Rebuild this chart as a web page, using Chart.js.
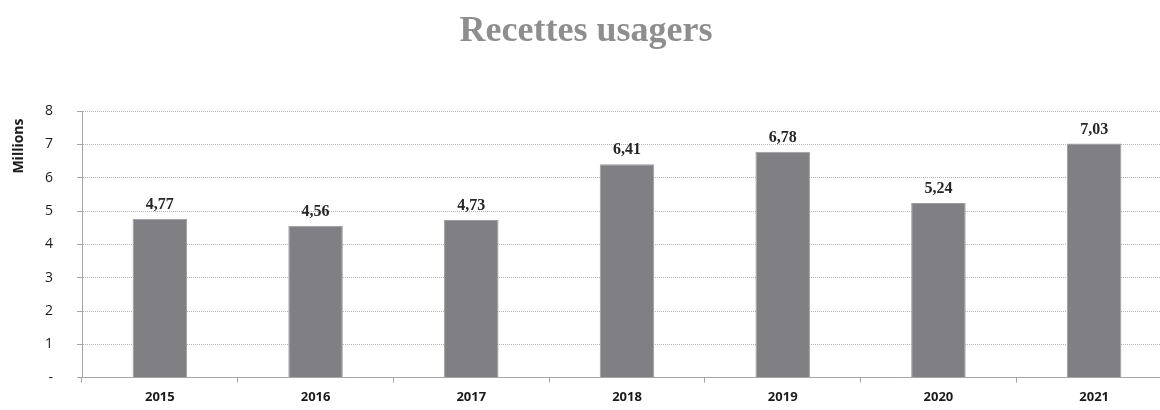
<!DOCTYPE html>
<html><head><meta charset="utf-8">
<script src="https://cdn.jsdelivr.net/npm/chart.js@4/dist/chart.umd.min.js"></script>
<style>
html,body{margin:0;padding:0;background:#fff;overflow:hidden;width:1160px;height:410px}
canvas{display:block}
</style></head>
<body>
<canvas id="c" width="1172" height="410"></canvas>
<script>
const categories = ['2015','2016','2017','2018','2019','2020','2021'];
const values = [4.77, 4.56, 4.73, 6.41, 6.78, 5.24, 7.03];
const valueLabels = ['4,77','4,56','4,73','6,41','6,78','5,24','7,03'];
const yTickLabels = {0:'-',1:'1',2:'2',3:'3',4:'4',5:'5',6:'6',7:'7',8:'8'};

const labelPlugin = {
  id: 'valLabels',
  afterDatasetsDraw(chart) {
    const ctx = chart.ctx;
    const meta = chart.getDatasetMeta(0);
    ctx.save();
    ctx.font = 'bold 16px "Liberation Serif"';
    ctx.fillStyle = '#262626';
    ctx.textAlign = 'center';
    ctx.textBaseline = 'alphabetic';
    meta.data.forEach((bar, i) => {
      ctx.fillText(valueLabels[i], bar.x, bar.y - 10);
    });
    ctx.restore();
  }
};

new Chart(document.getElementById('c'), {
  type: 'bar',
  data: {
    labels: categories,
    datasets: [{
      data: values,
      backgroundColor: '#808084',
      borderColor: '#9c9ca0',
      borderWidth: 1,
      barPercentage: 0.35,
      categoryPercentage: 1.0
    }]
  },
  options: {
    responsive: false,
    animation: false,
    layout: { padding: { left: 0, right: 0, top: 0, bottom: 0 } },
    plugins: {
      legend: { display: false },
      tooltip: { enabled: false },
      title: {
        display: true,
        text: 'Recettes usagers',
        color: '#8e8e8e',
        font: { family: '"Liberation Serif"', size: 36, weight: 'bold', lineHeight: 1.2 },
        padding: { top: 10, bottom: 58 }
      }
    },
    scales: {
      x: {
        afterFit(scale) { scale.height = 29; },
        grid: { display: true, drawOnChartArea: false, drawTicks: true, tickLength: 5, color: '#a6a6a6', offset: true },
        border: { color: '#a6a6a6', width: 1 },
        ticks: { color: '#1a1a1a', font: { family: '"Open Sans"', size: 13, weight: 'bold', lineHeight: 1.54 }, padding: 5 }
      },
      y: {
        min: 0, max: 8,
        afterFit(scale) { scale.width = 82; },
        grid: { color: '#b4b4b4', tickLength: 5, tickColor: '#a6a6a6', tickBorderDash: [], drawTicks: true },
        border: { color: '#a6a6a6', width: 1, dash: [1, 1] },
        ticks: {
          stepSize: 1, padding: 24, color: '#1a1a1a',
          font: { family: '"Open Sans"', size: 14 },
          callback: (v) => yTickLabels[v] !== undefined ? yTickLabels[v] : ''
        },
        title: {
          display: true, text: 'Millions  ', align: 'end',
          color: '#1a1a1a', font: { family: '"Open Sans"', size: 14, weight: 'bold' },
          padding: { top: 11, bottom: 0 }
        }
      }
    }
  },
  plugins: [labelPlugin]
});
</script>
</body></html>
